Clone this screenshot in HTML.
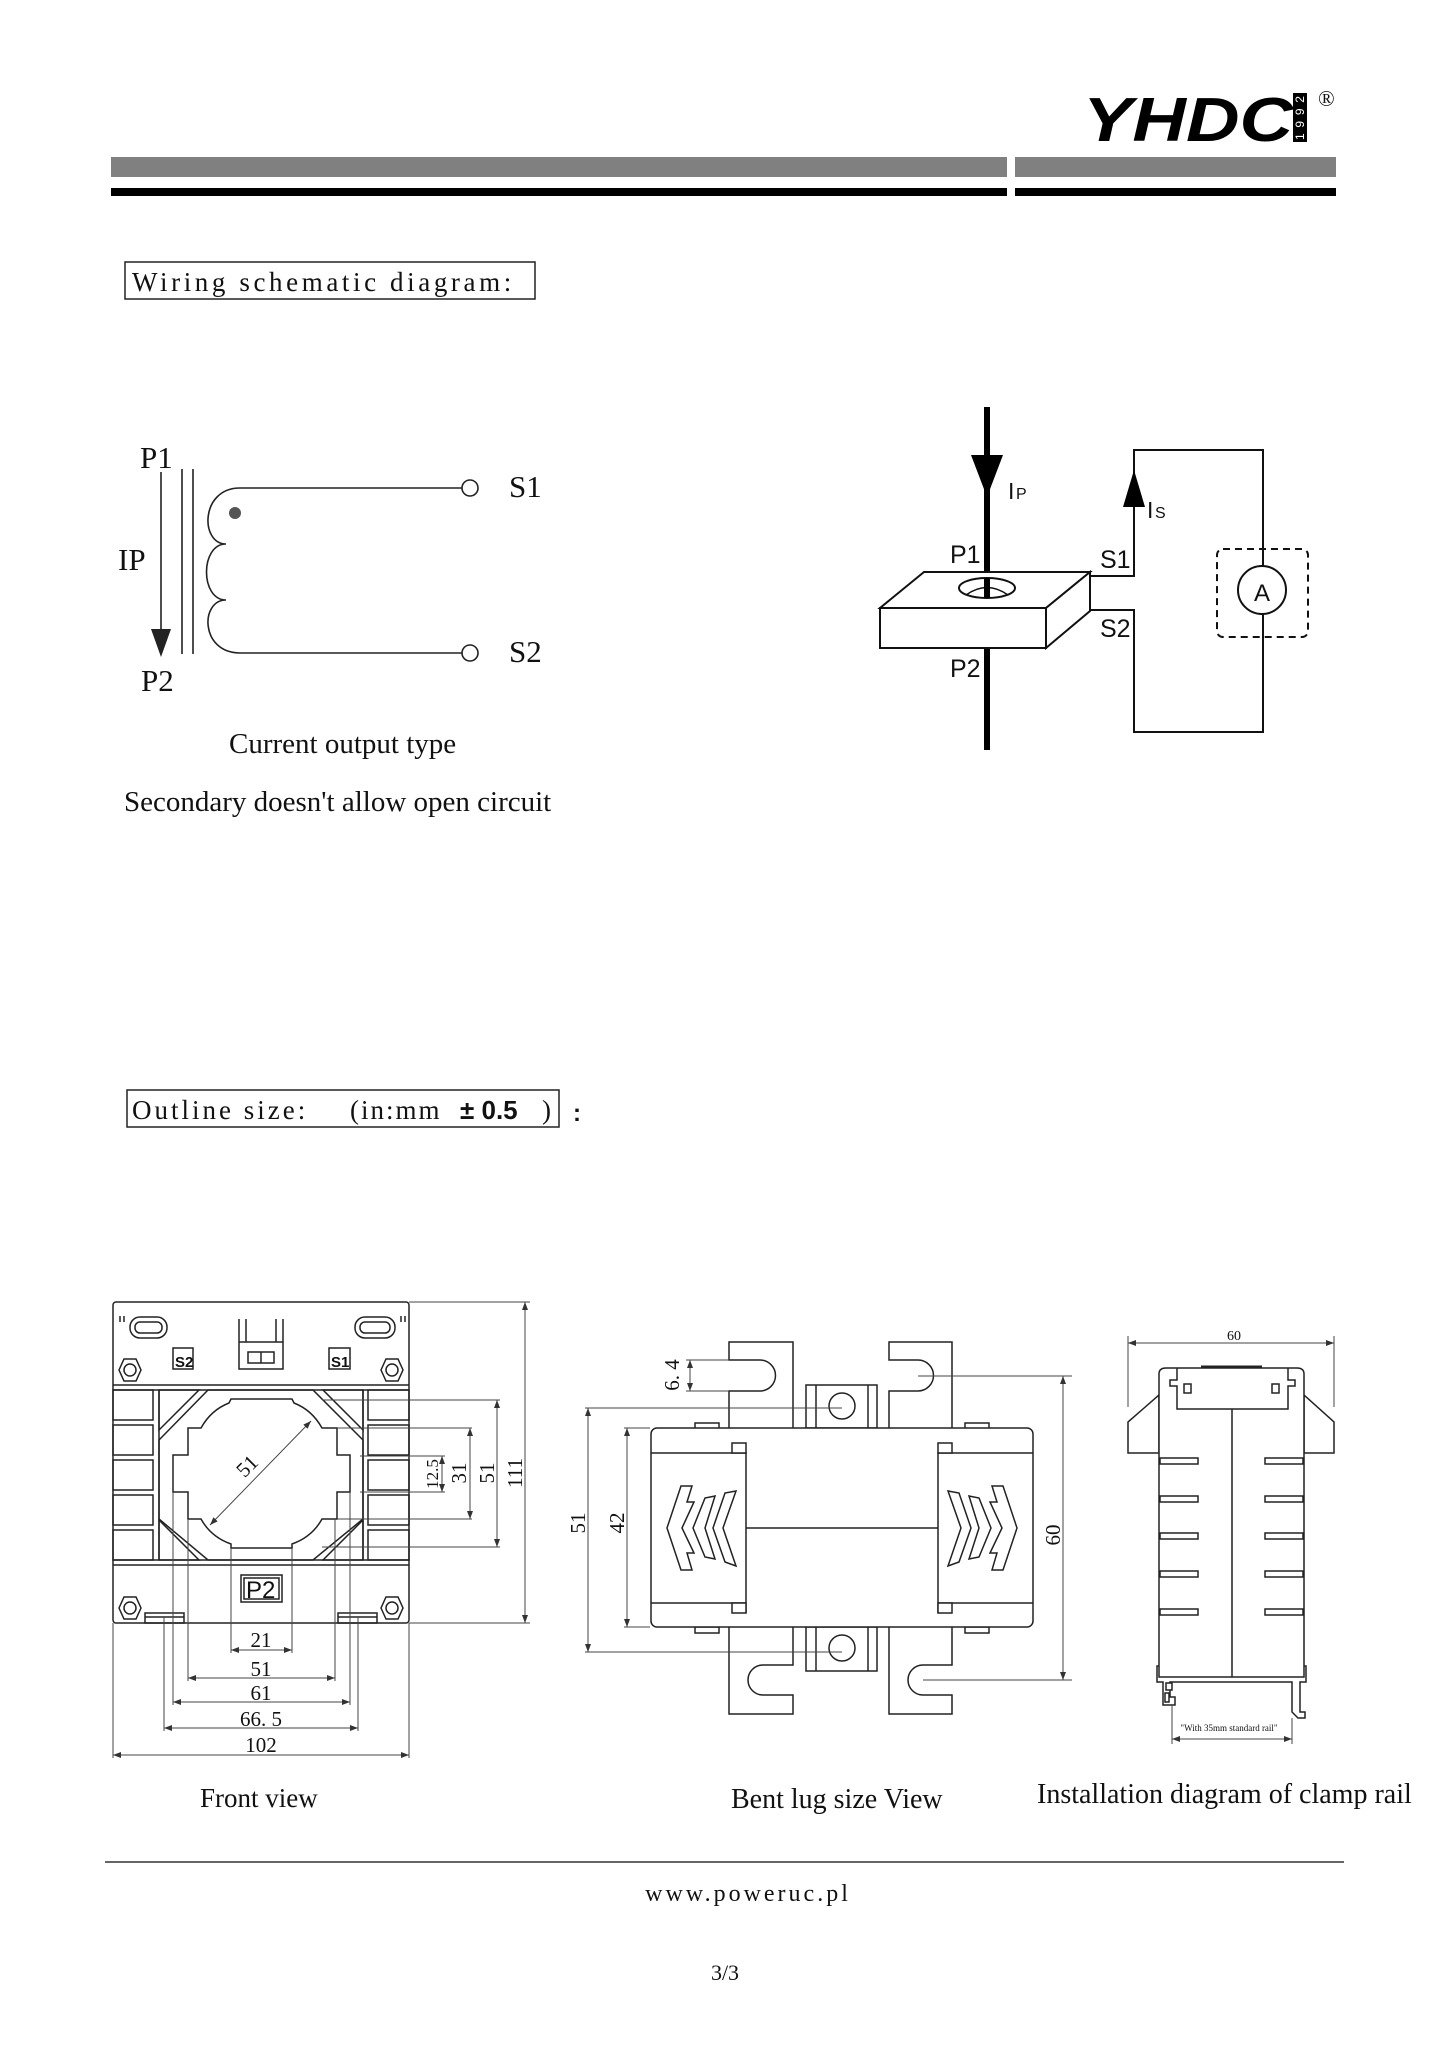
<!DOCTYPE html>
<html><head><meta charset="utf-8"><style>
html,body{margin:0;padding:0;background:#fff;}
svg{display:block;}
.s{font-family:"Liberation Serif",serif;fill:#111;}
.a{font-family:"Liberation Sans",sans-serif;fill:#111;}
</style></head><body>
<svg width="1447" height="2048" viewBox="0 0 1447 2048" xmlns="http://www.w3.org/2000/svg">
<defs>
<marker id="ar" markerWidth="8" markerHeight="6" refX="8" refY="3" orient="auto-start-reverse" markerUnits="userSpaceOnUse"><path d="M0,0 L8,3 L0,6 z" fill="#333"/></marker>
</defs>
<!-- header -->
<text x="1083" y="141" font-family="Liberation Sans,sans-serif" font-weight="bold" font-style="italic" font-size="62" textLength="210" lengthAdjust="spacingAndGlyphs" fill="#000">YHDC</text>
<rect x="1293" y="93" width="14" height="49" fill="#000"/>
<text x="0" y="0" transform="translate(1304,140) rotate(-90)" font-family="Liberation Sans,sans-serif" font-size="12" fill="#fff" textLength="44">1992</text>
<text x="1318" y="106" class="s" font-size="22">®</text>
<rect x="111" y="157" width="896" height="20" fill="#808080"/>
<rect x="1015" y="157" width="321" height="20" fill="#808080"/>
<rect x="111" y="188" width="896" height="8" fill="#000"/>
<rect x="1015" y="188" width="321" height="8" fill="#000"/>

<!-- wiring title -->
<rect x="125" y="262" width="410" height="37" fill="none" stroke="#222" stroke-width="1.5"/>
<text x="132" y="291" class="s" font-size="27" letter-spacing="3.6">Wiring schematic diagram:</text>

<!-- left schematic -->
<g transform="translate(0,-4)">
<g stroke="#222" stroke-width="1.6" fill="none">
<line x1="161" y1="476" x2="161" y2="640"/>
<line x1="182" y1="473" x2="182" y2="658"/>
<line x1="193" y1="473" x2="193" y2="658"/>
<line x1="240" y1="492" x2="462" y2="492"/>
<line x1="240" y1="657" x2="462" y2="657"/>
<circle cx="470" cy="492" r="8" fill="#fff"/>
<circle cx="470" cy="657" r="8" fill="#fff"/>
<path d="M240,492 C200,492 200,548 226,548 C200,548 200,604 226,604 C200,604 200,657 240,657"/>
</g>
<path d="M151,633 L171,633 L161,661 z" fill="#222"/>
<circle cx="235" cy="517" r="6" fill="#555"/>
</g>
<g transform="translate(0,-8)">
<text x="140" y="476" class="s" font-size="31">P1</text>
<text x="118" y="578" class="s" font-size="31">IP</text>
<text x="141" y="699" class="s" font-size="31">P2</text>
<text x="509" y="505" class="s" font-size="31">S1</text>
<text x="509" y="670" class="s" font-size="31">S2</text>
<text x="229" y="761" class="s" font-size="29">Current output type</text>
<text x="124" y="819" class="s" font-size="29">Secondary doesn't allow open circuit</text>
</g>

<!-- right schematic -->
<line x1="987" y1="407" x2="987" y2="750" stroke="#000" stroke-width="6"/>
<path d="M971,455 L1003,455 L987,497 z" fill="#000"/>
<g stroke="#111" stroke-width="2" fill="#fff">
<path d="M880,608 L924,572 L1090,572 L1046,608 z"/>
<path d="M880,608 L1046,608 L1046,648 L880,648 z"/>
<path d="M1046,608 L1090,572 L1090,611 L1046,648 z"/>
<ellipse cx="987" cy="588" rx="28" ry="10"/>
</g>
<path d="M966,595 Q987,580 1008,595" stroke="#111" stroke-width="1.5" fill="none"/>
<line x1="987" y1="578" x2="987" y2="598" stroke="#000" stroke-width="6"/>
<g stroke="#111" stroke-width="2" fill="none">
<path d="M1090,576 L1134,576 L1134,450 L1263,450 L1263,566"/>
<path d="M1263,614 L1263,732 L1134,732 L1134,610 L1090,610"/>
<circle cx="1262" cy="590" r="24"/>
<rect x="1217" y="549" width="91" height="88" rx="6" stroke-dasharray="7,5"/>
</g>
<path d="M1123,507 L1145,507 L1134,470 z" fill="#000"/>
<text x="1254" y="601" class="a" font-size="24">A</text>
<text x="1008" y="499" class="a" font-size="23">I</text><text x="1016" y="499" class="a" font-size="16">P</text>
<text x="1147" y="518" class="a" font-size="23">I</text><text x="1155" y="518" class="a" font-size="16">S</text>
<text x="950" y="563" class="a" font-size="25">P1</text>
<text x="950" y="677" class="a" font-size="25">P2</text>
<text x="1100" y="568" class="a" font-size="25">S1</text>
<text x="1100" y="637" class="a" font-size="25">S2</text>

<!-- outline title -->
<rect x="127" y="1090" width="432" height="37" fill="none" stroke="#222" stroke-width="1.5"/>
<text x="132" y="1119" class="s" font-size="27" letter-spacing="3">Outline size:</text>
<text x="350" y="1119" class="s" font-size="27" letter-spacing="2">(in:mm</text>
<text x="460" y="1119" class="a" font-size="26" font-weight="bold">± 0.5</text>
<text x="542" y="1119" class="s" font-size="27">)</text>
<text x="573" y="1121" class="a" font-size="24" font-weight="bold">:</text>

<!-- FRONT VIEW -->
<g stroke="#222" stroke-width="1.5" fill="none">
<rect x="113" y="1302" width="296" height="321" rx="3"/>
<line x1="113" y1="1385" x2="409" y2="1385"/><line x1="113" y1="1390" x2="409" y2="1390"/>
<line x1="113" y1="1560" x2="409" y2="1560"/><line x1="113" y1="1565" x2="409" y2="1565"/>
<rect x="113" y="1390" width="40" height="30"/><rect x="113" y="1425" width="40" height="30"/><rect x="113" y="1460" width="40" height="30"/><rect x="113" y="1495" width="40" height="30"/><rect x="113" y="1530" width="40" height="30"/>
<rect x="368" y="1390" width="41" height="30"/><rect x="368" y="1425" width="41" height="30"/><rect x="368" y="1460" width="41" height="30"/><rect x="368" y="1495" width="41" height="30"/><rect x="368" y="1530" width="41" height="30"/>
<path d="M159,1390 L159,1560 M363,1390 L363,1560"/>
<path d="M208,1390 L313,1390 L363,1440 L363,1519 L313,1560 L208,1560 L159,1519 L159,1440 z"/>
<path d="M159,1390 L199,1390 L159,1430 z M363,1390 L323,1390 L363,1430 z M159,1560 L199,1560 L159,1520 z M363,1560 L323,1560 L363,1520 z"/>
<path d="M231,1399 L292,1399 L294,1403 Q312,1410 322,1428 L337,1428 L337,1455 L350,1455 L350,1492 L337,1492 L337,1519 L322,1519 Q312,1537 292,1544 L292,1548 L231,1548 L231,1544 Q211,1537 201,1519 L188,1519 L188,1492 L173,1492 L173,1455 L188,1455 L188,1428 L201,1428 Q211,1410 229,1403 z"/>
<rect x="130" y="1317" width="37" height="21" rx="10"/><rect x="135" y="1322" width="27" height="11" rx="5"/>
<rect x="355" y="1317" width="40" height="21" rx="10"/><rect x="360" y="1322" width="30" height="11" rx="5"/>
<path d="M239,1319 L239,1369 L283,1369 L283,1319 M246,1319 L246,1342 M276,1319 L276,1342 M239,1342 L283,1342"/>
<rect x="248" y="1352" width="26" height="11"/><line x1="261" y1="1352" x2="261" y2="1363"/>
<rect x="173" y="1348" width="20" height="21"/><rect x="329" y="1348" width="21" height="21"/>
<rect x="241" y="1575" width="41" height="27"/><rect x="244" y="1578" width="35" height="21"/>
<rect x="145" y="1613" width="39" height="10"/><line x1="145" y1="1617" x2="184" y2="1617"/>
<rect x="338" y="1613" width="39" height="10"/><line x1="338" y1="1617" x2="377" y2="1617"/>
<g id="hx"><path d="M119,1370 L124,1359 L136,1359 L141,1370 L136,1381 L124,1381 z"/><circle cx="130" cy="1370" r="6"/></g>
<use href="#hx" transform="translate(262,0)"/><use href="#hx" transform="translate(0,238)"/><use href="#hx" transform="translate(262,238)"/>
<path d="M120,1316 v6 M124,1316 v6 M401,1316 v6 M405,1316 v6"/>
</g>
<text x="175" y="1367" class="a" font-size="15" font-weight="bold">S2</text>
<text x="331" y="1367" class="a" font-size="15" font-weight="bold">S1</text>
<text x="246" y="1598" class="a" font-size="24">P2</text>
<!-- front dims -->
<g stroke="#444" stroke-width="1" fill="none">
<line x1="409" y1="1302" x2="530" y2="1302"/><line x1="409" y1="1623" x2="530" y2="1623"/>
<line x1="525" y1="1302" x2="525" y2="1623" marker-start="url(#ar)" marker-end="url(#ar)"/>
<line x1="322" y1="1400" x2="500" y2="1400"/><line x1="322" y1="1547" x2="500" y2="1547"/>
<line x1="497" y1="1400" x2="497" y2="1547" marker-start="url(#ar)" marker-end="url(#ar)"/>
<line x1="337" y1="1428" x2="472" y2="1428"/><line x1="337" y1="1519" x2="472" y2="1519"/>
<line x1="470" y1="1428" x2="470" y2="1519" marker-start="url(#ar)" marker-end="url(#ar)"/>
<line x1="360" y1="1456" x2="445" y2="1456"/><line x1="360" y1="1492" x2="445" y2="1492"/>
<line x1="442" y1="1456" x2="442" y2="1492" marker-start="url(#ar)" marker-end="url(#ar)"/>
<line x1="210" y1="1525" x2="311" y2="1421" marker-start="url(#ar)" marker-end="url(#ar)"/>
<line x1="231" y1="1548" x2="231" y2="1653"/><line x1="292" y1="1548" x2="292" y2="1653"/>
<line x1="188" y1="1519" x2="188" y2="1681"/><line x1="335" y1="1519" x2="335" y2="1681"/>
<line x1="173" y1="1492" x2="173" y2="1705"/><line x1="350" y1="1492" x2="350" y2="1705"/>
<line x1="164" y1="1617" x2="164" y2="1731"/><line x1="358" y1="1617" x2="358" y2="1731"/>
<line x1="113" y1="1623" x2="113" y2="1758"/><line x1="409" y1="1623" x2="409" y2="1758"/>
<line x1="231" y1="1650" x2="292" y2="1650" marker-start="url(#ar)" marker-end="url(#ar)"/>
<line x1="188" y1="1678" x2="335" y2="1678" marker-start="url(#ar)" marker-end="url(#ar)"/>
<line x1="173" y1="1702" x2="350" y2="1702" marker-start="url(#ar)" marker-end="url(#ar)"/>
<line x1="164" y1="1728" x2="358" y2="1728" marker-start="url(#ar)" marker-end="url(#ar)"/>
<line x1="113" y1="1755" x2="409" y2="1755" marker-start="url(#ar)" marker-end="url(#ar)"/>
</g>
<g class="s" font-size="21" text-anchor="middle">
<text x="261" y="1647">21</text><text x="261" y="1676">51</text><text x="261" y="1700">61</text><text x="261" y="1726">66. 5</text><text x="261" y="1752">102</text>
<text transform="translate(522,1473) rotate(-90)">111</text>
<text transform="translate(494,1473) rotate(-90)">51</text>
<text transform="translate(466,1473) rotate(-90)">31</text>
<text transform="translate(438,1474) rotate(-90)" font-size="17">12.5</text>
<text transform="translate(252,1471) rotate(-45)">51</text>
</g>
<text x="200" y="1807" class="s" font-size="27">Front view</text>

<!-- BENT LUG VIEW -->
<g stroke="#222" stroke-width="1.5" fill="#fff">
<path d="M729,1428 L729,1391 L760,1391 A15.5,15.5 0 0 0 760,1360 L729,1360 L729,1342 L793,1342 L793,1428"/>
<path d="M889,1428 L889,1391 L918,1391 A15.5,15.5 0 0 0 918,1360 L889,1360 L889,1342 L952,1342 L952,1428"/>
<path d="M729,1627 L729,1714 L793,1714 L793,1695 L763,1695 A15,15 0 0 1 763,1665 L793,1665 L793,1627"/>
<path d="M889,1627 L889,1714 L952,1714 L952,1695 L923,1695 A15,15 0 0 1 923,1665 L952,1665 L952,1627"/>
<rect x="806" y="1385" width="71" height="43"/><line x1="816" y1="1385" x2="816" y2="1428"/><line x1="868" y1="1385" x2="868" y2="1428"/><circle cx="842" cy="1406" r="13"/>
<rect x="806" y="1627" width="71" height="44"/><line x1="816" y1="1627" x2="816" y2="1671"/><line x1="868" y1="1627" x2="868" y2="1671"/><circle cx="842" cy="1648" r="13"/>
<rect x="695" y="1423" width="24" height="6"/><rect x="965" y="1423" width="24" height="6"/>
<rect x="695" y="1627" width="24" height="6"/><rect x="965" y="1627" width="24" height="6"/>
<rect x="651" y="1428" width="382" height="199" rx="6"/>
<path d="M651,1453 L746,1453 M651,1603 L746,1603 M746,1452 L746,1613 M938,1452 L938,1613 M938,1453 L1033,1453 M938,1603 L1033,1603 M746,1528 L938,1528" fill="none"/>
<rect x="732" y="1443" width="14" height="10"/><rect x="732" y="1603" width="14" height="10"/>
<rect x="938" y="1443" width="14" height="10"/><rect x="938" y="1603" width="14" height="10"/>
<path d="M667,1528 L681,1486 L692,1486 L687,1502 L694,1502 L682,1528 L694,1553 L687,1553 L692,1570 L681,1570 z"/>
<path d="M693,1528 L705,1498 L715,1496 L705,1528 L715,1559 L705,1557 z"/>
<path d="M713,1528 L725,1493 L736,1491 L723,1528 L736,1566 L725,1562 z"/>
<path d="M1017,1528 L1003,1486 L992,1486 L997,1502 L990,1502 L1002,1528 L990,1553 L997,1553 L992,1570 L1003,1570 z"/>
<path d="M991,1528 L979,1498 L969,1496 L979,1528 L969,1559 L979,1557 z"/>
<path d="M971,1528 L959,1493 L948,1491 L961,1528 L948,1566 L959,1562 z"/>
</g>
<g stroke="#444" stroke-width="1" fill="none">
<line x1="686" y1="1360" x2="729" y2="1360"/><line x1="686" y1="1391" x2="729" y2="1391"/>
<line x1="690" y1="1360" x2="690" y2="1391" marker-start="url(#ar)" marker-end="url(#ar)"/>
<line x1="585" y1="1408" x2="842" y2="1408"/><line x1="585" y1="1652" x2="842" y2="1652"/>
<line x1="588" y1="1408" x2="588" y2="1652" marker-start="url(#ar)" marker-end="url(#ar)"/>
<line x1="624" y1="1428" x2="650" y2="1428"/><line x1="624" y1="1627" x2="650" y2="1627"/>
<line x1="627" y1="1428" x2="627" y2="1627" marker-start="url(#ar)" marker-end="url(#ar)"/>
<line x1="918" y1="1376" x2="1072" y2="1376"/><line x1="923" y1="1680" x2="1072" y2="1680"/>
<line x1="1063" y1="1376" x2="1063" y2="1680" marker-start="url(#ar)" marker-end="url(#ar)"/>
</g>
<g class="s" font-size="21" text-anchor="middle">
<text transform="translate(679,1375) rotate(-90)">6. 4</text>
<text transform="translate(585,1523) rotate(-90)">51</text>
<text transform="translate(624,1523) rotate(-90)">42</text>
<text transform="translate(1060,1535) rotate(-90)">60</text>
</g>
<text x="731" y="1808" class="s" font-size="28">Bent lug size View</text>

<!-- RAIL VIEW -->
<g stroke="#222" stroke-width="1.5" fill="#fff">
<path d="M1159,1395 L1128,1422 L1128,1453 L1159,1453 z"/>
<path d="M1304,1395 L1334,1422 L1334,1453 L1304,1453 z"/>
<path d="M1159,1677 L1159,1374 Q1159,1368 1166,1368 L1297,1368 Q1304,1368 1304,1374 L1304,1677 z"/>
<path d="M1177,1368 L1177,1380 L1170,1380 L1170,1386 L1177,1386 L1177,1409 L1288,1409 L1288,1386 L1295,1386 L1295,1380 L1288,1380 L1288,1368" fill="none"/>
<rect x="1184" y="1384" width="7" height="9"/><rect x="1272" y="1384" width="7" height="9"/>
<line x1="1232" y1="1409" x2="1232" y2="1677"/>
<line x1="1201" y1="1367" x2="1262" y2="1367" stroke-width="3"/>
<rect x="1160" y="1458" width="38" height="6"/><rect x="1160" y="1496" width="38" height="6"/><rect x="1160" y="1533" width="38" height="6"/><rect x="1160" y="1571" width="38" height="6"/><rect x="1160" y="1609" width="38" height="6"/>
<rect x="1265" y="1458" width="38" height="6"/><rect x="1265" y="1496" width="38" height="6"/><rect x="1265" y="1533" width="38" height="6"/><rect x="1265" y="1571" width="38" height="6"/><rect x="1265" y="1609" width="38" height="6"/>
<path d="M1159,1666 L1157,1666 L1157,1682 L1163,1682 L1163,1705 L1175,1705 L1175,1697 L1170,1697 L1170,1682 L1292,1682 L1292,1712 L1298,1718 L1305,1718 L1305,1712 L1300,1712 L1300,1682 L1306,1682 L1306,1666 L1304,1666" fill="none"/>
<rect x="1166" y="1683" width="6" height="7"/><rect x="1165" y="1693" width="4" height="9"/>
</g>
<g stroke="#444" stroke-width="1" fill="none">
<line x1="1128" y1="1336" x2="1128" y2="1407"/><line x1="1334" y1="1336" x2="1334" y2="1407"/>
<line x1="1128" y1="1343" x2="1334" y2="1343" marker-start="url(#ar)" marker-end="url(#ar)"/>
<line x1="1172" y1="1705" x2="1172" y2="1744"/><line x1="1292" y1="1718" x2="1292" y2="1744"/>
<line x1="1172" y1="1739" x2="1292" y2="1739" marker-start="url(#ar)" marker-end="url(#ar)"/>
</g>
<text x="1234" y="1340" class="s" font-size="14" text-anchor="middle">60</text>
<text x="1229" y="1731" class="s" font-size="9" text-anchor="middle" fill="#555">"With 35mm standard rail"</text>
<text x="1037" y="1803" class="s" font-size="28">Installation diagram of clamp rail</text>

<!-- footer -->
<line x1="105" y1="1862" x2="1344" y2="1862" stroke="#333" stroke-width="1.5"/>
<text x="748" y="1901" class="s" font-size="24" letter-spacing="3" text-anchor="middle">www.poweruc.pl</text>
<text x="725" y="1980" class="s" font-size="22" text-anchor="middle">3/3</text>
</svg>
</body></html>
